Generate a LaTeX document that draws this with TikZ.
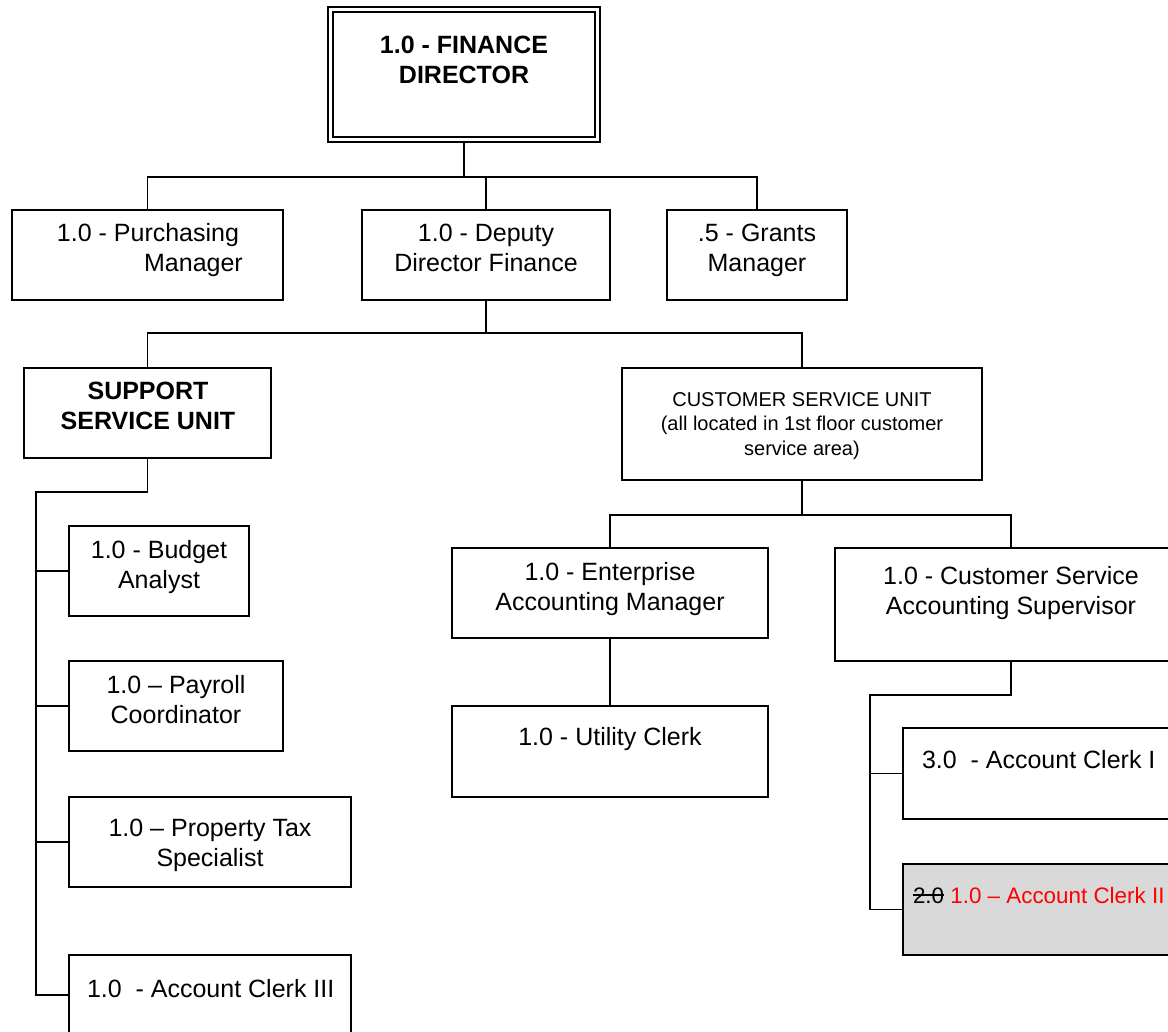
\documentclass[tikz,border=0pt]{standalone}
\usepackage{fontspec}
\setmainfont{Liberation Sans}
\definecolor{clerkgray}{HTML}{D9D9D9}
\definecolor{editred}{RGB}{255,0,0}
\newcommand{\mystrike}[1]{\setbox0=\hbox{#1}\rlap{\rule[0.33em]{\wd0}{0.07em}}\box0\relax}
\begin{document}
\begin{tikzpicture}[x=1pt,y=-1pt,
  box/.style={draw, line width=1.5pt, inner sep=0pt, outer sep=0pt, fill=white},
  conn/.style={line width=1.6pt},
  lbl/.style={inner sep=0pt, outer sep=0pt, font=\fontsize{25}{30}\selectfont, align=center, anchor=base},
  lbll/.style={inner sep=0pt, outer sep=0pt, font=\fontsize{25}{30}\selectfont, anchor=base west},
  small/.style={inner sep=0pt, outer sep=0pt, font=\fontsize{20}{24.5}\selectfont, align=center, anchor=base}]
\clip (0,0) rectangle (1168,1032);
\fill[white] (0,0) rectangle (1168,1032);

% boxes
\node[box, minimum width=272pt, minimum height=135pt] (fd) at (464,74.5) {};
\node[draw, line width=1.5pt, inner sep=0pt, outer sep=0pt, minimum width=262pt, minimum height=125pt] (fdin) at (464,74.5) {};
\node[box, minimum width=271pt, minimum height=90pt] (purch) at (147.5,255) {};
\node[box, minimum width=248pt, minimum height=90pt] (deputy) at (486,255) {};
\node[box, minimum width=180pt, minimum height=90pt] (grants) at (757,255) {};
\node[box, minimum width=247pt, minimum height=90pt] (support) at (147.5,413) {};
\node[box, minimum width=360pt, minimum height=112pt] (csu) at (802,424) {};
\node[box, minimum width=180pt, minimum height=90pt] (budget) at (159,571) {};
\node[box, minimum width=214pt, minimum height=90pt] (payroll) at (176,706) {};
\node[box, minimum width=282pt, minimum height=90pt] (property) at (210,842) {};
\node[box, minimum width=282pt, minimum height=80pt] (clerk3) at (210,995) {};
\node[box, minimum width=316pt, minimum height=90pt] (enterprise) at (610,593) {};
\node[box, minimum width=352pt, minimum height=113pt] (supervisor) at (1011,604.5) {};
\node[box, minimum width=316pt, minimum height=91pt] (utility) at (610,751.5) {};
\node[box, minimum width=287pt, minimum height=91pt] (clerk1) at (1046.5,773.5) {};
\node[box, fill=clerkgray, minimum width=287pt, minimum height=91pt] (clerk2) at (1046.5,909.5) {};

% connectors
\coordinate (h1) at (0,177);
\draw[conn] (fd.south) -- (fd.south |- h1);
\draw[conn] (purch.north) -- (purch.north |- h1) -- (grants.north |- h1) -- (grants.north);
\draw[conn] (deputy.north) -- (deputy.north |- h1);
\coordinate (h2) at (0,333);
\draw[conn] (deputy.south) -- (deputy.south |- h2);
\draw[conn] (support.north) -- (support.north |- h2) -- (csu.north |- h2) -- (csu.north);
\coordinate (sp) at (36,492);
\draw[conn] (support.south) -- (support.south |- sp) -- (sp) -- (sp |- clerk3.west) -- (clerk3.west);
\draw[conn] (sp |- budget.west) -- (budget.west);
\draw[conn] (sp |- payroll.west) -- (payroll.west);
\draw[conn] (sp |- property.west) -- (property.west);
\coordinate (h3) at (0,515);
\draw[conn] (csu.south) -- (csu.south |- h3);
\draw[conn] (enterprise.north) -- (enterprise.north |- h3) -- (supervisor.north |- h3) -- (supervisor.north);
\draw[conn] (enterprise.south) -- (utility.north);
\coordinate (sp2) at (870,695);
\draw[conn] (supervisor.south) -- (supervisor.south |- sp2) -- (sp2) -- (sp2 |- clerk2.west) -- (clerk2.west);
\draw[conn] (sp2 |- clerk1.west) -- (clerk1.west);

% labels (base anchor = baseline of last line)
\node[lbl, font=\fontsize{25}{30}\selectfont\bfseries] (tfd) at (464,84) {1.0 - FINANCE\\DIRECTOR};
\node[lbl] (tpurch1) at (148,242) {1.0 - Purchasing};
\node[lbl] (tpurch2) at (193.5,272) {Manager};
\node[lbl] (tdeputy) at (486,272) {1.0 - Deputy\\Director Finance};
\node[lbl] (tgrants) at (757,272) {.5 - Grants\\Manager};
\node[lbl, font=\fontsize{25}{30}\selectfont\bfseries] (tsupport) at (148,429) {SUPPORT\\SERVICE UNIT};
\node[small] (tcsu) at (802,455) {CUSTOMER SERVICE UNIT\\(all located in 1st floor customer\\service area)};
\node[lbl] (tbudget) at (159,588) {1.0 - Budget\\Analyst};
\node[lbl] (tpayroll) at (176,723) {1.0 – Payroll\\Coordinator};
\node[lbl] (tproperty) at (210,866) {1.0 – Property Tax\\Specialist};
\node[lbll] (tclerk3) at (87,997) {1.0\ \ - Account Clerk III};
\node[lbl] (tenterprise) at (610,610) {1.0 - Enterprise\\Accounting Manager};
\node[lbl] (tsupervisor) at (1011,614) {1.0 - Customer Service\\Accounting Supervisor};
\node[lbl] (tutility) at (610,745) {1.0 - Utility Clerk};
\node[lbll] (tclerk1) at (922,768) {3.0\ \ - Account Clerk I};
\node[lbll, font=\fontsize{22.4}{27}\selectfont] (tclerk2) at (913,903) {\mystrike{2.0} \textcolor{editred}{1.0 – Account Clerk II}};
\end{tikzpicture}
\end{document}
